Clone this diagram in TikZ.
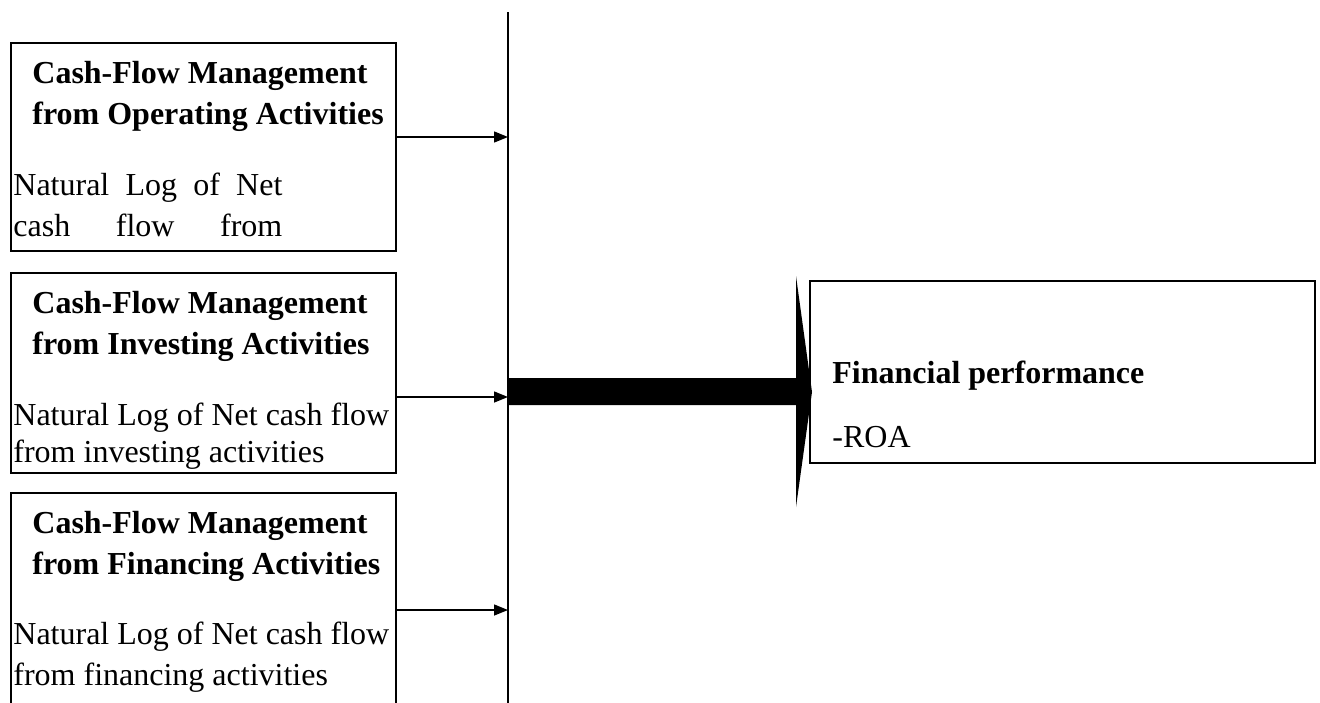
\documentclass[tikz,border=0pt]{standalone}
\usepackage{fontspec}
\setmainfont{Liberation Serif}
\usetikzlibrary{fit,arrows.meta}
\tikzset{
  box/.style={draw, line width=1pt, inner sep=0pt},
  txt/.style={anchor=base west, inner sep=0pt, font=\fontsize{16}{20}\selectfont},
  btxt/.style={txt, font=\fontsize{16}{20}\selectfont\bfseries},
  conn/.style={line width=0.7pt, -{Triangle[length=7pt,width=5.5pt]}},
}
\begin{document}
\begin{tikzpicture}[x=0.5pt,y=-0.5pt]
\useasboundingbox (0,0) rectangle (1320,702);
\clip (0,0) rectangle (1320,702);
% left boxes
\node[box, fit={(11,43) (396,251)}] (b1) {};
\node[box, fit={(11,273) (396,473)}] (b2) {};
\node[box, fit={(11,493) (396,730)}] (b3) {};
% texts box 1
\node[btxt] (b1t1) at (32,83) {Cash-Flow Management};
\node[btxt] (b1t2) at (32,124) {from Operating Activities};
\node[txt] (b1t3) at (13,195) {\makebox[134.5pt][s]{Natural Log of Net}};
\node[txt] (b1t4) at (13,236) {\makebox[134.5pt][s]{cash flow from}};
% texts box 2
\node[btxt] (b2t1) at (32,313) {Cash-Flow Management};
\node[btxt] (b2t2) at (32,354) {from Investing Activities};
\node[txt] (b2t3) at (13,425) {Natural Log of Net cash flow};
\node[txt] (b2t4) at (13,462) {from investing activities};
% texts box 3
\node[btxt] (b3t1) at (32,533) {Cash-Flow Management};
\node[btxt] (b3t2) at (32,574) {from Financing Activities};
\node[txt] (b3t3) at (13,644) {Natural Log of Net cash flow};
\node[txt] (b3t4) at (13,685) {from financing activities};
% vertical collector line
\coordinate (vtop) at (508,12);
\coordinate (vbot) at (508,710);
\draw[line width=0.8pt] (vtop) -- (vbot);
% arrows into the line
\coordinate (t1) at (508,137);
\coordinate (t2) at (508,397);
\coordinate (t3) at (508,610);
\draw[conn] (b1.east |- t1) -- (t1);
\draw[conn] (b2.east |- t2) -- (t2);
\draw[conn] (b3.east |- t3) -- (t3);
% right box
\node[box, fit={(810,281) (1315,463)}] (fp) {};
\node[btxt] (fpt1) at (832,383) {Financial performance};
\node[txt] (fpt2) at (832,447) {-ROA};
% big arrow
\coordinate (tip) at (812,392);
\fill (t2 |- 0,378) -- (796,378) -- (796,276) -- (tip) -- (796,507) -- (796,405) -- (t2 |- 0,405) -- cycle;
\end{tikzpicture}
\end{document}
